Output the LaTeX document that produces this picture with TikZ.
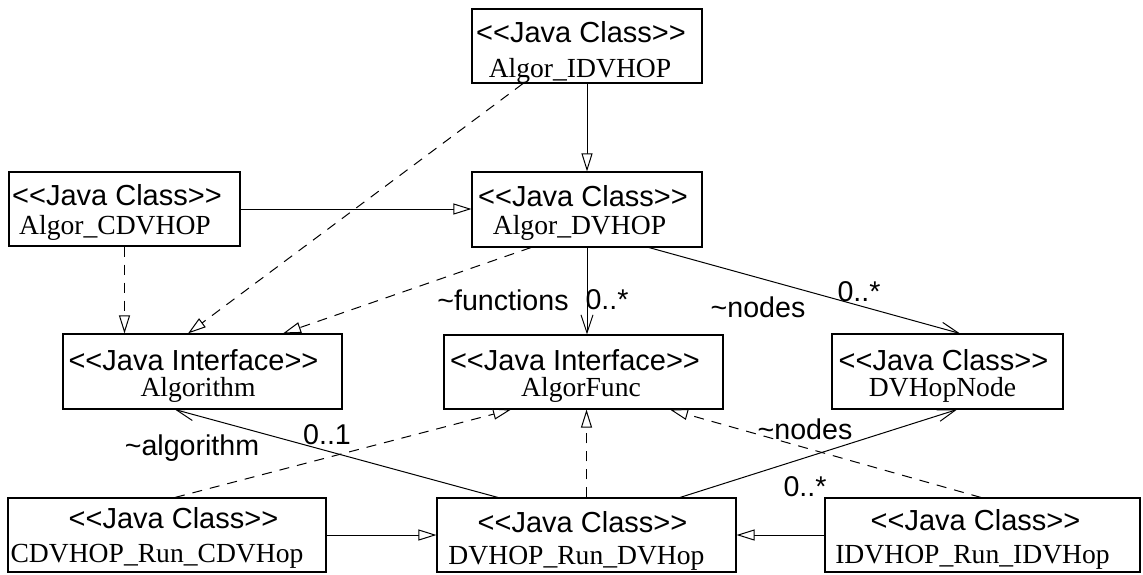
\documentclass[tikz,border=0pt]{standalone}
\usepackage{fontspec}
\newfontfamily\uisans{Liberation Sans}
\newfontfamily\uiserif{Liberation Serif}
\usetikzlibrary{arrows.meta,calc}
\begin{document}
\begin{tikzpicture}[x=0.5pt,y=-0.5pt,
  box/.style={draw,line width=0.55pt,inner sep=0pt},
  st/.style={font=\uisans\fontsize{14.5}{16}\selectfont, inner sep=0pt, anchor=base},
  nm/.style={font=\uiserif\fontsize{13.8}{16}\selectfont, inner sep=0pt, anchor=base},
  lab/.style={font=\uisans\fontsize{14.3}{16}\selectfont, inner sep=0pt, anchor=base},
  conn/.style={line width=0.5pt},
  gen/.style={conn,-{Triangle[length=9pt,width=5.5pt,fill=white]}},
  real/.style={gen,dash pattern=on 5pt off 4pt},
  assoc/.style={conn,-{Straight Barb[length=9pt,width=6pt]}}
]
\fill[white] (0,0) rectangle (1143,574);
\useasboundingbox (0,0) rectangle (1143,574);

% boxes
\node[box,minimum width=115pt,minimum height=37pt] (idv) at (587,46) {};
\node[box,minimum width=115.5pt,minimum height=37pt] (cdv) at (124.5,209) {};
\node[box,minimum width=115pt,minimum height=37.5pt] (dv) at (587,209.5) {};
\node[box,minimum width=139.5pt,minimum height=37.5pt] (alg) at (202.5,371.5) {};
\node[box,minimum width=139.5pt,minimum height=37pt] (af) at (583.5,372) {};
\node[box,minimum width=115.5pt,minimum height=37.5pt] (dvn) at (947.5,371.5) {};
\node[box,minimum width=159pt,minimum height=37pt] (crun) at (167,535) {};
\node[box,minimum width=149.5pt,minimum height=37pt] (drun) at (586.5,535) {};
\node[box,minimum width=157.5pt,minimum height=37pt] (irun) at (982.5,535) {};

% box texts
\node[st] (idv-s) at (581,42) {<<Java Class>>};
\node[nm] (idv-n) at (580,77) {Algor\_IDVHOP};
\node[st] (cdv-s) at (117,205) {<<Java Class>>};
\node[nm] (cdv-n) at (115,234) {Algor\_CDVHOP};
\node[st] (dv-s) at (583,206) {<<Java Class>>};
\node[nm] (dv-n) at (579.5,234) {Algor\_DVHOP};
\node[st] (alg-s) at (193.5,370) {<<Java Interface>>};
\node[nm] (alg-n) at (198,396) {Algorithm};
\node[st] (af-s) at (575,370) {<<Java Interface>>};
\node[nm] (af-n) at (581,396) {AlgorFunc};
\node[st] (dvn-s) at (943.5,370) {<<Java Class>>};
\node[nm] (dvn-n) at (942.5,396) {DVHopNode};
\node[st] (crun-s) at (173.5,528) {<<Java Class>>};
\node[nm] (crun-n) at (157,562) {CDVHOP\_Run\_CDVHop};
\node[st] (drun-s) at (582.5,532) {<<Java Class>>};
\node[nm] (drun-n) at (576.5,564) {DVHOP\_Run\_DVHop};
\node[st] (irun-s) at (975.5,530) {<<Java Class>>};
\node[nm] (irun-n) at (972.5,563) {IDVHOP\_Run\_IDVHop};

% connectors
\draw[gen] (idv.south) -- (dv.north);
\draw[real] ($(idv.south)+(-64,0)$) -- ($(alg.north)+(-14.5,0)$);
\draw[gen] (cdv.east) -- (cdv.east -| dv.west);
\draw[real] (cdv.south) -- (cdv.south |- alg.north);
\draw[real] ($(dv.south)+(-56,0)$) -- ($(alg.north)+(80.5,0)$);
\draw[assoc] (dv.south) -- (dv.south |- af.north);
\draw[assoc] ($(dv.south)+(62,0)$) -- ($(dvn.north)+(12.5,0)$);
\draw[real] ($(crun.north)+(8,0)$) -- ($(af.south)+(-72.5,0)$);
\draw[assoc] ($(drun.north)+(-88.5,0)$) -- ($(alg.south)+(-27.5,0)$);
\draw[real] (drun.north) -- (drun.north |- af.south);
\draw[assoc] ($(drun.north)+(93.5,0)$) -- ($(dvn.south)+(9.5,0)$);
\draw[real] ($(irun.north)+(-1.5,0)$) -- ($(af.south)+(86.5,0)$);
\draw[gen] (crun.east) -- (crun.east -| drun.west);
\draw[gen] (irun.west) -- (irun.west -| drun.east);

% labels
\node[lab] (l-fun) at (503,310) {\textasciitilde functions};
\node[lab] (l-funm) at (607,309) {0..*};
\node[lab] (l-nod) at (758,317) {\textasciitilde nodes};
\node[lab] (l-nodm) at (859,301) {0..*};
\node[lab] (l-alg) at (192,455) {\textasciitilde algorithm};
\node[lab] (l-algm) at (327,444) {0..1};
\node[lab] (l-nod2) at (805,439) {\textasciitilde nodes};
\node[lab] (l-nod2m) at (805,496) {0..*};
\end{tikzpicture}
\end{document}
